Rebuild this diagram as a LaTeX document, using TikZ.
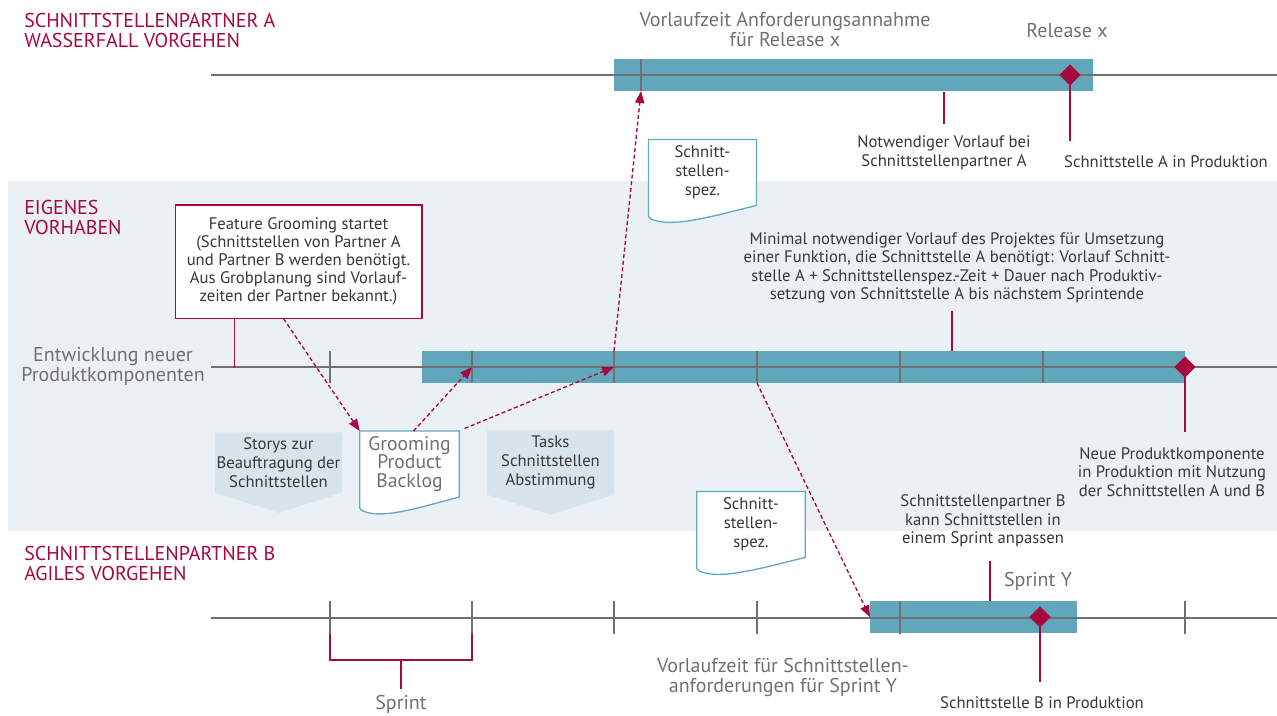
\documentclass[tikz,border=0pt]{standalone}
\usepackage{fontspec}
\setmainfont{PT Sans}
\usetikzlibrary{positioning}
\usetikzlibrary{arrows.meta}
\usetikzlibrary{shapes.symbols, shapes.geometric}
\usetikzlibrary{calc, backgrounds}
\definecolor{kred}{RGB}{166,9,61}
\definecolor{kteal}{RGB}{98,166,188}
\definecolor{kband}{RGB}{235,240,244}
\definecolor{ktask}{RGB}{216,228,234}
\definecolor{kgrey}{RGB}{112,112,112}
\definecolor{ktext}{RGB}{55,55,55}
\definecolor{kdoc}{RGB}{96,168,196}
\tikzset{
 head/.style = {%
    anchor=west, align=left, text=kred, inner sep=0pt,
    font=\fontsize{15}{15}\selectfont},
 note/.style = {%
    align=center, text=ktext, inner sep=0pt,
    font=\fontsize{12.5}{13.9}\selectfont},
 big/.style = {%
    align=center, text=kgrey, inner sep=0pt,
    font=\fontsize{15}{15}\selectfont},
 axis/.style = {draw=kgrey, line width=1.5pt},
 tick/.style = {draw=kgrey, line width=1pt},
 bar/.style = {fill=kteal, inner sep=0pt, anchor=north west, minimum height=24pt},
 milestone/.style = {diamond, fill=kred, inner sep=0pt, minimum size=16pt},
 redline/.style = {draw=kred, line width=1.2pt},
 flow/.style = {%
    draw=kred, line width=1pt,
    dash pattern=on 3pt off 2pt,
    -{Triangle[length=9pt, width=7pt]}},
 box/.style = {%
    draw=kred, line width=1pt, fill=white,
    align=center, text=ktext, inner sep=0pt,
    minimum width=185pt, minimum height=85pt,
    font=\fontsize{12.5}{13.5}\selectfont},
 spec/.style = {%
    align=center, text=ktext, inner sep=0pt,
    minimum width=80.5pt, minimum height=49pt,
    font=\fontsize{12.5}{14.25}\selectfont},
 task/.style = {%
    signal, signal to=south, signal pointer angle=145,
    fill=ktask, align=center, text=ktext, inner sep=0pt,
    minimum width=95pt, minimum height=60pt,
    font=\fontsize{12.5}{14.25}\selectfont},
 docline/.style = {draw=kdoc, line width=1pt, fill=white},
}
% document outline below a node
\newcommand\docshape[1]{%
  \begin{scope}[on background layer]
  \draw[docline] ($(#1.south west)+(0,11)$) -- (#1.north west) -- (#1.north east) -- (#1.south east)
    .. controls ($(#1.south west)!0.7!(#1.south east)+(0,8)$) and ($(#1.south west)!0.4!(#1.south east)+(0,17)$)
    .. ($(#1.south west)!0.2!(#1.south east)+(0,17)$)
    .. controls ($(#1.south west)!0.1!(#1.south east)+(0,17)$) and ($(#1.south west)+(0,14)$)
    .. ($(#1.south west)+(0,11)$) -- cycle;
  \end{scope}}

\begin{document}
\begin{tikzpicture}[x=0.75pt, y=-0.75pt]
    \useasboundingbox (0,0) rectangle (1277,715);
    \begin{scope}[on background layer]
        \fill[kband] (8,181) rectangle (1277,531);
    \end{scope}

    % Schnittstellenpartner A
    \node[head] (headA) at (24,30) {SCHNITTSTELLENPARTNER A\\WASSERFALL VORGEHEN};
    \node[bar, minimum width=359.25pt] (barA) at (614,59) {};
    \draw[axis] (211,75) -- (1277,75);
    \draw[tick] (641,59) -- (641,91);
    \coordinate (specA) at (641,91);
    \node[milestone] (relA) at (1070,75) {};
    \node[big] (vorlA) at (785,30) {Vorlaufzeit Anforderungsannahme\\für Release x};
    \node[big] (rel) at (1067,31) {Release x};
    \node[note] (notw) at (944,153) {Notwendiger Vorlauf bei\\Schnittstellenpartner A};
    \node[note] (prodA) at (1166,162) {Schnittstelle A in Produktion};
    \draw[redline] (barA.south -| notw) -- ++(0,32);
    \draw[redline] (relA.center) -- ++(0,66);
    \node[spec] (specT) at (702.5,172.5) {Schnitt-\\stellen-\\spez.};
    \docshape{specT}

    % Eigenes Vorhaben
    \node[head] (headE) at (24,217) {EIGENES\\VORHABEN};
    \node[box] (feat) at (298.5,261.5) {Feature Grooming startet\\(Schnittstellen von Partner A\\und Partner B werden benötigt.\\Aus Grobplanung sind Vorlauf-\\zeiten der Partner bekannt.)};
    \node[big] (entw) at (113,366) {Entwicklung neuer\\Produktkomponenten};
    \node[bar, minimum width=572.25pt] (barM) at (422,351) {};
    \draw[axis] (211,367) -- (1277,367);
    \foreach \x/\n in {330/1,472/2,614/3,757/4,900/5,1043/6} {
        \draw[tick] (\x,351) -- (\x,383);
        \coordinate (m\n) at (\x,367);
        \coordinate (mt\n) at (\x,351);
        \coordinate (mb\n) at (\x,383);
    }
    \node[milestone] (relM) at (1185,367) {};
    \draw[redline] ([xshift=45pt]feat.south west) -- ++(0,49);
    \node[note] (minv) at (957,268) {Minimal notwendiger Vorlauf des Projektes für Umsetzung\\einer Funktion, die Schnittstelle A benötigt: Vorlauf Schnitt-\\stelle A + Schnittstellenspez.-Zeit + Dauer nach Produktiv-\\setzung von Schnittstelle A bis nächstem Sprintende};
    \draw[redline] (952,311) -- (952,351);
    \draw[redline] (relM.center) -- ++(0,65);
    \node[note] (neue) at (1172,472) {Neue Produktkomponente\\in Produktion mit Nutzung\\der Schnittstellen A und B};
    \node[task, anchor=north] (story) at (278.5,432) {Storys zur\\Beauftragung der\\Schnittstellen};
    \node[task, anchor=north] (tasks) at (550.5,430) {Tasks\\Schnittstellen\\Abstimmung};
    \node[spec, minimum width=74.25pt, text=kgrey, font=\fontsize{14.75}{14}\selectfont] (gpb) at (409.5,464) {Grooming\\Product\\Backlog};
    \docshape{gpb}

    % Schnittstellenpartner B
    \node[head] (headB) at (24,563) {SCHNITTSTELLENPARTNER B\\AGILES VORGEHEN};
    \node[note] (kann) at (983,521) {Schnittstellenpartner B\\kann Schnittstellen in\\einem Sprint anpassen};
    \node[spec, minimum width=81pt] (specB) at (751,524.5) {Schnitt-\\stellen-\\spez.};
    \docshape{specB}
    \node[bar, minimum width=155.25pt] (barB) at (870,601) {};
    \draw[axis] (211,618) -- (1277,618);
    \foreach \x/\n in {330/1,472/2,614/3,757/4,900/5,1185/6} {
        \draw[tick] (\x,601) -- (\x,634);
        \coordinate (b\n) at (\x,634);
    }
    \node[milestone] (relB) at (1040,617) {};
    \draw[redline] (990,561) -- (barB.north -| 990,0);
    \draw[redline] (relB.center) -- ++(0,65);
    \node[big] (spy) at (1038,581) {Sprint Y};
    \node[big] (vorlB) at (783,677) {Vorlaufzeit für Schnittstellen-\\anforderungen für Sprint Y};
    \node[note] (prodB) at (1042,703) {Schnittstelle B in Produktion};
    \draw[redline] (b1) -- (330,660) -- (472,660) -- (b2);
    \draw[redline] (401,660) -- (401,689);
    \node[big] (sprint) at (401,704) {Sprint};

    % Abhaengigkeiten
    \draw[flow] ($(feat.south west)!0.44!(feat.south east)$) -- (gpb.north west);
    \draw[flow] ([xshift=3pt]gpb.north) -- (m2);
    \draw[flow] ([xshift=4pt,yshift=2pt]gpb.north east) -- (m3);
    \draw[flow] (mt3) -- (specA);
    \draw[flow] (mb4) -- (barB.west);
\end{tikzpicture}
\end{document}
